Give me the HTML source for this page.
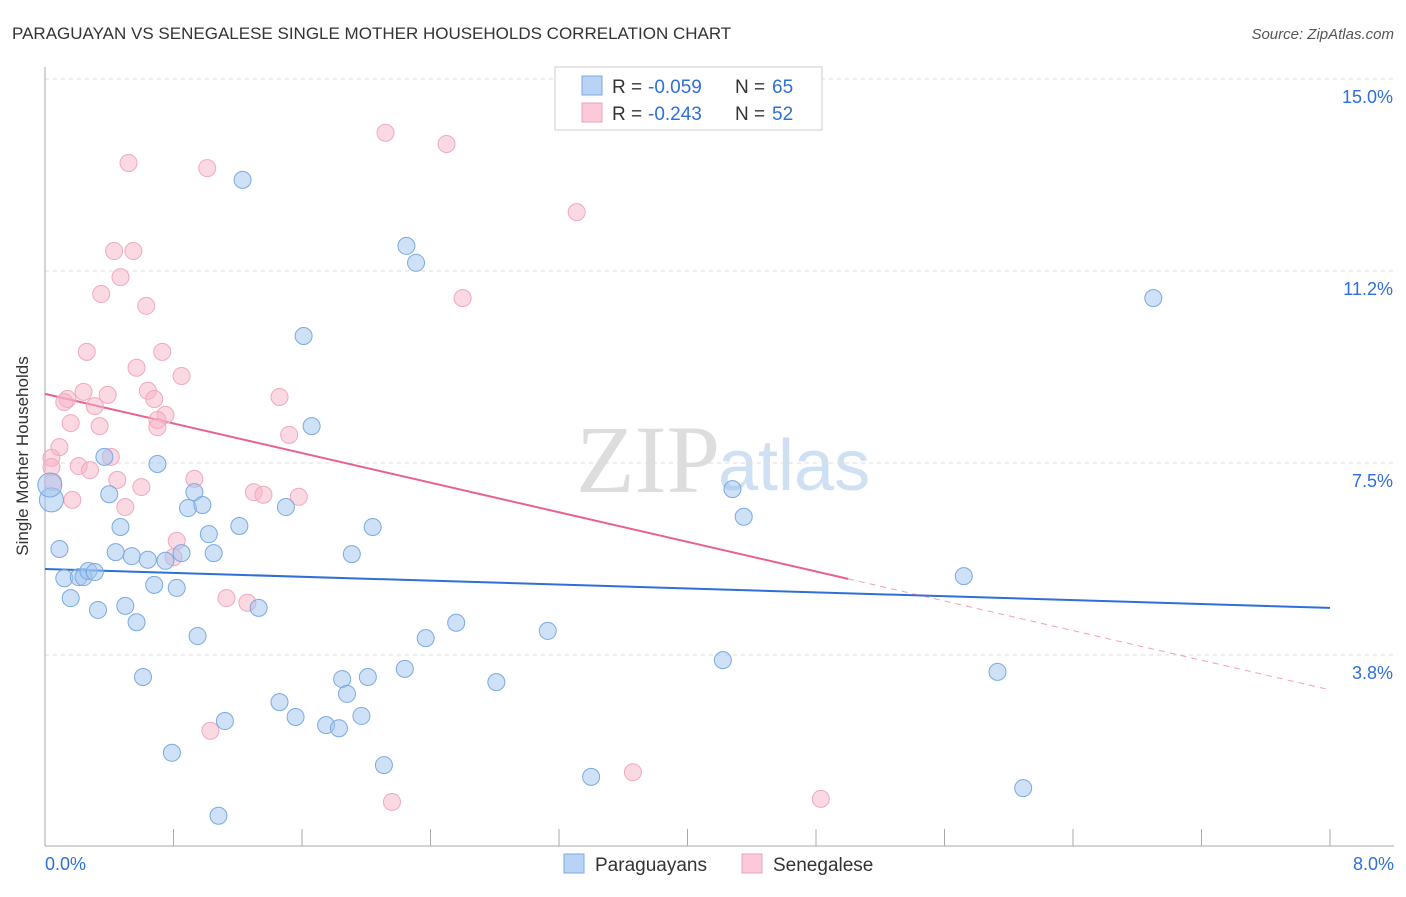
<!DOCTYPE html>
<html><head><meta charset="utf-8"><style>
body{margin:0;background:#fff;font-family:"Liberation Sans",sans-serif}
</style></head><body>
<svg width="1406" height="892" xmlns="http://www.w3.org/2000/svg" id="chart" font-family="Liberation Sans, sans-serif">
<text x="12" y="39" font-size="17" fill="#333">PARAGUAYAN VS SENEGALESE SINGLE MOTHER HOUSEHOLDS CORRELATION CHART</text>
<text x="1394" y="39" font-size="15" fill="#555" text-anchor="end" font-style="italic">Source: ZipAtlas.com</text>
<text x="720" y="492" font-size="96" fill="#ddd" text-anchor="end" font-family="Liberation Serif, serif">ZIP</text>
<text x="718" y="490" font-size="72" fill="#cfe0f3">atlas</text>
<g id="grid"></g><g id="axes"></g><g id="trends"></g><g id="pts"></g>
<text x="28" y="456" font-size="17" fill="#333" transform="rotate(-90 28 456)" text-anchor="middle">Single Mother Households</text>
<g>
<rect x="555" y="67" width="267" height="63" fill="#fff" stroke="#ccc"/>
<rect x="582" y="76" width="20" height="19" fill="#b8d3f5" stroke="#7aa9e0"/>
<rect x="582" y="103" width="20" height="19" fill="#fbc9d8" stroke="#f0a0b8"/>
<text x="612" y="93" font-size="19" fill="#333">R =</text>
<text x="648" y="93" font-size="19" fill="#2e6fd8">-0.059</text>
<text x="735" y="93" font-size="19" fill="#333">N =</text>
<text x="772" y="93" font-size="19" fill="#2e6fd8">65</text>
<text x="612" y="120" font-size="19" fill="#333">R =</text>
<text x="648" y="120" font-size="19" fill="#2e6fd8">-0.243</text>
<text x="735" y="120" font-size="19" fill="#333">N =</text>
<text x="772" y="120" font-size="19" fill="#2e6fd8">52</text>
</g>
<g>
<rect x="564" y="854" width="20" height="19" fill="#b8d3f5" stroke="#7aa9e0"/>
<text x="595" y="871" font-size="19" fill="#333">Paraguayans</text>
<rect x="742" y="854" width="20" height="19" fill="#fbc9d8" stroke="#f0a0b8"/>
<text x="773" y="871" font-size="19" fill="#333">Senegalese</text>
</g>
</svg>
<script>
const yTicks=[3.8,7.5,11.2,15.0];
const yTickVals=[3.75,7.5,11.25,15];
const xTickLabels=["0.0%","8.0%"];
const blueX=[1.23,2.25,2.31,6.90,1.61,1.66,0.70,0.37,0.40,0.93,0.89,0.98,1.50,0.04,0.47,1.02,1.21,2.04,4.28,4.35,0.09,0.44,0.54,0.64,0.75,0.85,1.05,1.91,0.12,0.21,0.24,0.27,0.31,5.72,0.68,0.82,0.16,0.33,0.50,1.33,0.57,0.95,2.37,2.56,3.13,4.22,2.24,5.93,0.61,1.85,2.01,1.88,2.81,1.46,1.56,1.97,1.75,1.83,1.12,0.79,2.11,3.40,6.09,1.08,0.03];
const blueY=[13.03,11.74,11.41,10.72,9.98,8.22,7.48,7.62,6.89,6.93,6.62,6.68,6.64,6.78,6.25,6.11,6.27,6.25,6.99,6.45,5.82,5.76,5.68,5.61,5.59,5.74,5.74,5.72,5.25,5.27,5.27,5.39,5.37,5.29,5.12,5.06,4.86,4.63,4.71,4.67,4.39,4.12,4.08,4.38,4.22,3.65,3.48,3.42,3.32,3.28,3.32,2.99,3.22,2.83,2.54,2.56,2.38,2.32,2.46,1.84,1.60,1.37,1.15,0.61,7.07];
const pinkX=[2.12,2.50,0.52,1.01,3.31,0.43,0.55,0.47,0.35,2.60,0.63,0.26,0.73,0.57,0.85,0.24,0.64,0.39,0.14,0.12,0.31,0.68,1.46,0.75,0.70,0.70,0.16,0.34,1.52,0.09,0.04,0.41,0.04,0.21,0.28,0.93,0.45,0.60,0.05,1.30,1.36,1.58,0.17,0.50,0.82,0.80,1.13,1.26,1.03,3.66,2.16,4.83];
const pinkY=[13.95,13.73,13.36,13.26,12.40,11.64,11.64,11.13,10.80,10.72,10.57,9.67,9.67,9.36,9.20,8.89,8.91,8.83,8.75,8.69,8.61,8.75,8.79,8.44,8.34,8.20,8.28,8.22,8.05,7.81,7.60,7.62,7.42,7.44,7.36,7.19,7.17,7.03,7.13,6.93,6.88,6.84,6.78,6.64,5.98,5.66,4.86,4.77,2.27,1.46,0.88,0.94];
const blueTrend=[5.43,4.67];
const pinkTrend=[8.85,3.07];
const pinkSolidEnd=5.0;
const NS="http://www.w3.org/2000/svg";
const X=v=>45+v/8*1285, Y=v=>79+(15-v)*51.2;
function mk(p,t,a){const e=document.createElementNS(NS,t);for(const k in a)e.setAttribute(k,a[k]);document.getElementById(p).appendChild(e);return e;}
yTickVals.forEach((v,i)=>{
 const g=mk('grid','line',{x1:45,x2:1394,y1:Y(v),y2:Y(v),stroke:'#ddd','stroke-dasharray':'4 4'});
 
 
 const t=mk('grid','text',{x:1393,y:Y(v)+24,'font-size':18,fill:'#2e6fd8','text-anchor':'end'});t.textContent=yTicks[i].toFixed(1)+'%';
 
 
});
const ax=mk('axes','line',{x1:45,x2:45,y1:67,y2:846,stroke:'#aaa'});


const bx=mk('axes','line',{x1:45,x2:1394,y1:846,y2:846,stroke:'#aaa'});


for(let i=1;i<=10;i++){const tk=mk('axes','line',{x1:X(i*0.8),x2:X(i*0.8),y1:829,y2:846,stroke:'#aaa'});
 
 }
[[0,'start',45],[8,'end',1394]].forEach((d,i)=>{const t=mk('axes','text',{x:d[2],y:870,'font-size':18,fill:'#2e6fd8','text-anchor':d[1]});t.textContent=xTickLabels[i];
 
 });
pinkX.forEach((x,i)=>{const c=mk('pts','circle',{cx:X(x),cy:Y(pinkY[i]),r:8.5,fill:'rgba(248,180,200,0.5)',stroke:'#f0a8bf','stroke-width':1});
 
 });
blueX.forEach((x,i)=>{const c=mk('pts','circle',{cx:X(x),cy:Y(blueY[i]),r:(i==13||i==64)?12:8.5,fill:'rgba(160,196,240,0.5)',stroke:'#7aa9e0','stroke-width':1});
 
 });
const bl=mk('trends','line',{x1:X(0),y1:Y(blueTrend[0]),x2:X(8),y2:Y(blueTrend[1]),stroke:'#2e6fd8','stroke-width':2});


const pe=pinkTrend[0]+(pinkTrend[1]-pinkTrend[0])*pinkSolidEnd/8;
const pl=mk('trends','line',{x1:X(0),y1:Y(pinkTrend[0]),x2:X(pinkSolidEnd),y2:Y(pe),stroke:'#e8608c','stroke-width':2});


const pd=mk('trends','line',{x1:X(pinkSolidEnd),y1:Y(pe),x2:X(8),y2:Y(pinkTrend[1]),stroke:'#e8608c','stroke-width':1,'stroke-dasharray':'6 5',opacity:0.6});


</script>
</body></html>
